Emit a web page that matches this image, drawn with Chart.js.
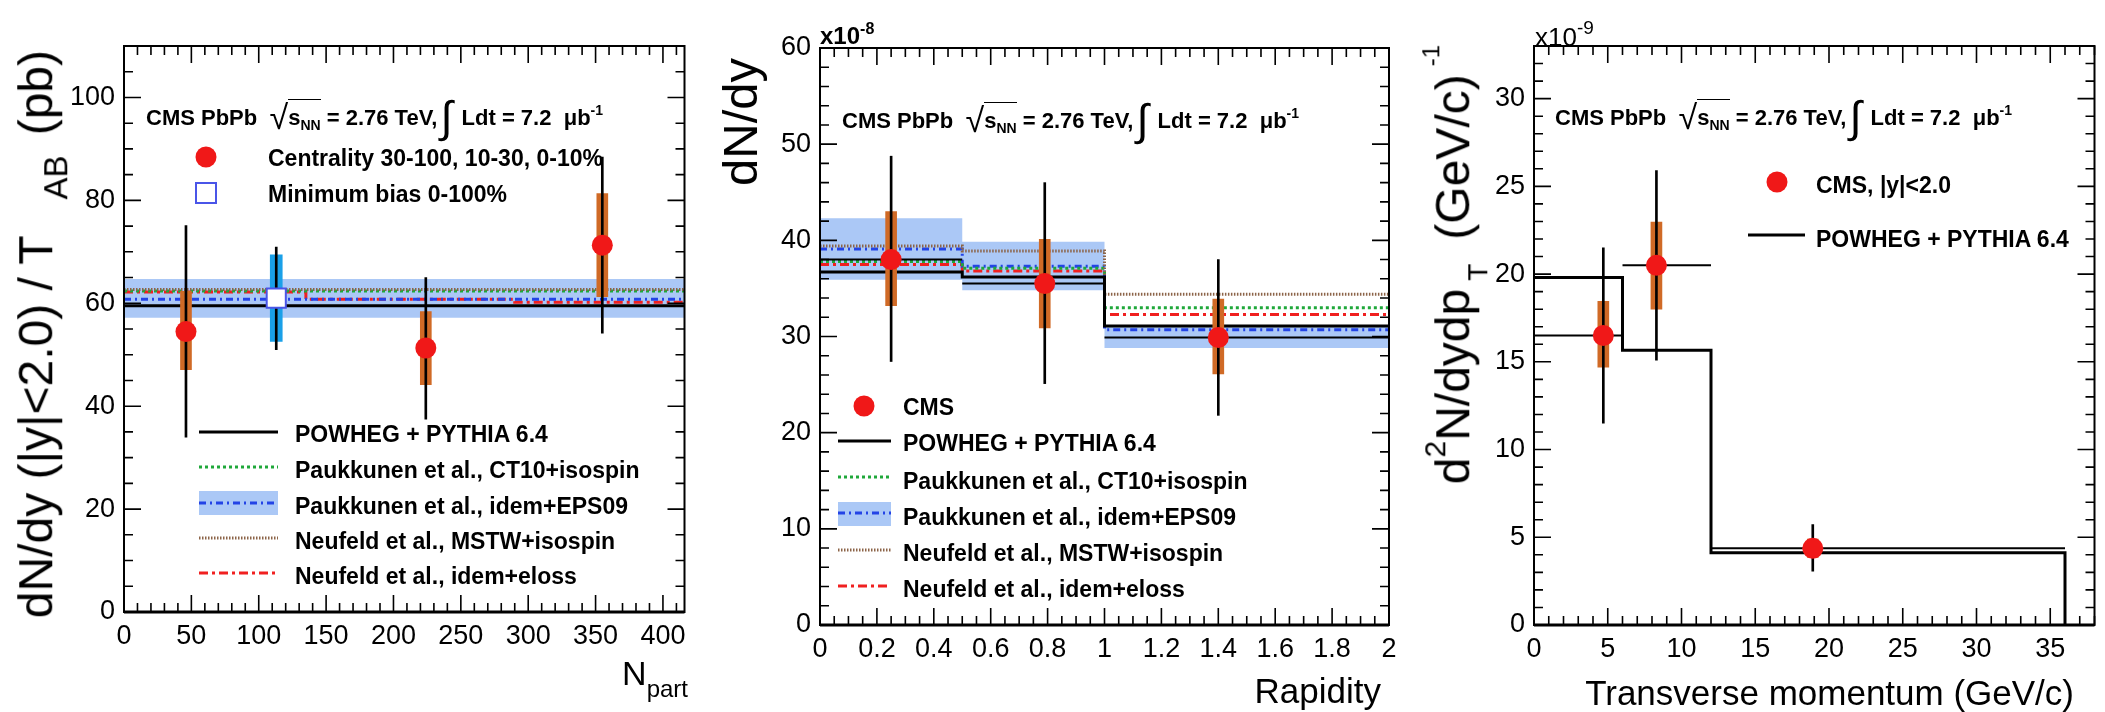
<!DOCTYPE html>
<html>
<head>
<meta charset="utf-8">
<script src="https://cdn.jsdelivr.net/npm/chart.js@4.4.1/dist/chart.umd.min.js"></script>
<style>
html, body { margin: 0; padding: 0; background: #fff; }
#page { position: relative; width: 2105px; height: 712px; overflow: hidden; }
canvas { position: absolute; top: 0; }
.t { position: absolute; white-space: nowrap; line-height: 1; font-family: "Liberation Sans", Arial, sans-serif; color: #000; }
.hdr { font-size: 22px; font-weight: bold; }
.hdr .rt { font-weight: normal; font-size: 34px; position: relative; top: 4px; }
.hdr .ov { border-top: 1.5px solid #000; padding-top: 5px; }
.hdr .ig { font-weight: normal; font-size: 44px; position: relative; top: 7px; margin: 0 3px; }
.hdr .sb { font-size: 14px; position: relative; top: 5px; }
.hdr .sp { font-size: 14px; position: relative; top: -10px; }
.leg { font-size: 23px; font-weight: bold; }
.ytitle { position: absolute; width: 0; height: 0; }
.ytitle > div { position: absolute; right: 0; top: 0; transform-origin: 100% 0; transform: rotate(-90deg);
  white-space: nowrap; line-height: 1; font-family: "Liberation Sans", Arial, sans-serif; color: #000; }
</style>
</head>
<body>
<div id="page"></div>
<script>
// ---- panel 1: yield vs N_part ----
const npartEdges = [0, 135, 290, 416];
const npartX = [46, 224, 355];
const npartY = [54.5, 51.3, 71.3];
const npartStatLo = [34.0, 37.5, 54.2];
const npartStatHi = [75.1, 65.0, 88.4];
const npartSystLo = [47.1, 44.2, 61.3];
const npartSystHi = [62.3, 58.4, 81.3];
const mbX = [113];
const mbY = [61.0];
const mbStatLo = [51.0];
const mbStatHi = [70.9];
const mbSystLo = [52.6];
const mbSystHi = [69.4];
const npartPowheg = [59.5, 59.5, 59.5];
const npartCT10 = [62.4, 62.4, 62.4];
const npartEPS09 = [60.8, 60.8, 60.8];
const npartEPS09Lo = [57.2, 57.2, 57.2];
const npartEPS09Hi = [64.7, 64.7, 64.7];
const npartMSTW = [62.7, 62.7, 62.7];
const npartEloss = [62.2, 60.8, 60.2];

// ---- panel 2: dN/dy vs rapidity (x1e-8) ----
const rapEdges = [0, 0.5, 1, 2];
const rapX = [0.25, 0.79, 1.4];
const rapY = [38.0, 35.5, 29.9];
const rapStatLo = [27.4, 25.1, 21.8];
const rapStatHi = [48.75, 46.0, 38.0];
const rapSystLo = [33.2, 30.9, 26.1];
const rapSystHi = [43.0, 40.1, 33.9];
const rapPowheg = [36.7, 36.2, 31.1];
const rapCT10 = [37.8, 37.1, 33.0];
const rapEPS09 = [39.1, 37.3, 30.7];
const rapEPS09Lo = [35.9, 34.8, 28.8];
const rapEPS09Hi = [42.3, 39.85, 31.0];
const rapMSTW = [39.4, 38.9, 34.4];
const rapEloss = [37.5, 36.8, 32.3];

// ---- panel 3: d2N/dydpT vs pT (x1e-9) ----
const ptEdges = [0, 6, 12, 36];
const ptX = [4.7, 8.3, 18.9];
const ptY = [16.5, 20.5, 4.37];
const ptStatLo = [11.5, 15.1, 3.07];
const ptStatHi = [21.5, 25.9, 5.73];
const ptSystLo = [14.7, 18.0, 3.85];
const ptSystHi = [18.45, 22.97, 4.9];
const ptPowheg = [19.8, 15.66, 4.12];

const RED = '#f01818';
const ORANGE = '#d06a26';
const BAND = '#abc8f6';
const STYLE = {
  powheg: { color: '#000000', width: 3, dash: [] },
  ct10:   { color: '#1fa83a', width: 3, dash: [3, 3] },
  eps09:  { color: '#2343e6', width: 3, dash: [7, 4, 2, 4] },
  mstw:   { color: '#8c6448', width: 3, dash: [1.5, 1.5] },
  eloss:  { color: '#f02020', width: 3, dash: [9, 4, 3, 4] }
};
const FONT = '"Liberation Sans", Arial, sans-serif';
Chart.defaults.font.family = FONT;

// histogram points: horizontal at each bin value, vertical at the edges (stepped 'before')
function steps(edges, vals) {
  const pts = vals.map((v, i) => ({ x: edges[i], y: v }));
  pts.push({ x: edges[edges.length - 1], y: vals[vals.length - 1] });
  return pts;
}

function modelLine(data, s) {
  return { type: 'line', data, stepped: 'before', borderColor: s.color, borderWidth: s.width,
    borderDash: s.dash, pointRadius: 0, fill: false, order: 50 };
}

function band(edges, lo, hi) {
  return [
    { type: 'line', data: steps(edges, hi), stepped: 'before', borderWidth: 0, pointRadius: 0, fill: false, order: 100 },
    { type: 'line', data: steps(edges, lo), stepped: 'before', borderWidth: 0, pointRadius: 0,
      fill: '-1', backgroundColor: BAND, order: 100 }
  ];
}

function bars(xs, lo, hi, color, thick, order) {
  return { type: 'bar', data: xs.map((x, i) => ({ x, y: [lo[i], hi[i]] })), backgroundColor: color,
    barThickness: thick, grouped: false, borderWidth: 0, order };
}

function markers(xs, ys) {
  return { type: 'scatter', data: xs.map((x, i) => ({ x, y: ys[i] })), pointRadius: 10.5,
    pointBackgroundColor: RED, pointBorderWidth: 0, order: 0 };
}

function xErrors(edges, ys) {
  return ys.map((y, i) => ({ type: 'line', data: [{ x: edges[i], y }, { x: edges[i + 1], y }],
    borderColor: '#000', borderWidth: 2, pointRadius: 0, fill: false, order: 10 }));
}

// frame + ROOT-like ticks on all four sides
const rootFrame = {
  id: 'rootFrame',
  afterDatasetsDraw(chart, args, opts) {
    const { ctx, chartArea: a } = chart;
    ctx.save();
    ctx.strokeStyle = '#000';
    ctx.lineWidth = 1.6;
    const axes = [[chart.scales.x, opts.x, true], [chart.scales.y, opts.y, false]];
    axes.forEach(([scale, [major, minor], horiz]) => {
      const n = Math.floor((scale.max - scale.min) / minor + 1e-6);
      for (let k = 0; k <= n; k++) {
        const v = scale.min + k * minor;
        const isMajor = Math.abs(v / major - Math.round(v / major)) < 1e-6;
        const len = isMajor ? 17 : 9;
        const p = scale.getPixelForValue(v);
        ctx.beginPath();
        if (horiz) {
          ctx.moveTo(p, a.bottom); ctx.lineTo(p, a.bottom - len);
          ctx.moveTo(p, a.top); ctx.lineTo(p, a.top + len);
        } else {
          ctx.moveTo(a.left, p); ctx.lineTo(a.left + len, p);
          ctx.moveTo(a.right, p); ctx.lineTo(a.right - len, p);
        }
        ctx.stroke();
      }
    });
    ctx.lineWidth = 2;
    ctx.strokeRect(a.left, a.top, a.right - a.left, a.bottom - a.top);
    ctx.lineWidth = 3;
    ctx.beginPath(); ctx.moveTo(a.left, a.bottom); ctx.lineTo(a.right, a.bottom); ctx.stroke();
    ctx.restore();
  }
};

// legend symbols (text is HTML)
const rootLegend = {
  id: 'rootLegend',
  afterDatasetsDraw(chart, args, opts) {
    const ctx = chart.ctx;
    const dx = opts.dx || 0;
    ctx.save();
    (opts.items || []).forEach(it => {
      if (it.t === 'circle') {
        ctx.fillStyle = RED;
        ctx.beginPath(); ctx.arc(it.x - dx, it.y, 10.5, 0, Math.PI * 2); ctx.fill();
      } else if (it.t === 'square') {
        ctx.fillStyle = '#fff'; ctx.strokeStyle = '#4a55e8'; ctx.lineWidth = 2;
        ctx.fillRect(it.x - dx - 10, it.y - 10, 20, 20);
        ctx.strokeRect(it.x - dx - 10, it.y - 10, 20, 20);
      } else if (it.t === 'band') {
        ctx.fillStyle = BAND;
        ctx.fillRect(it.x1 - dx, it.y1, it.x2 - it.x1, it.y2 - it.y1);
      } else if (it.t === 'line') {
        ctx.strokeStyle = it.s.color; ctx.lineWidth = it.s.width; ctx.setLineDash(it.s.dash);
        ctx.beginPath(); ctx.moveTo(it.x1 - dx, it.y); ctx.lineTo(it.x2 - dx, it.y); ctx.stroke();
        ctx.setLineDash([]);
      }
    });
    ctx.restore();
  }
};

const page = document.getElementById('page');

function makeChart(cfg) {
  const canvas = document.createElement('canvas');
  canvas.width = cfg.width;
  canvas.height = 712;
  canvas.style.left = cfg.left + 'px';
  canvas.style.width = cfg.width + 'px';
  canvas.style.height = '712px';
  page.appendChild(canvas);
  const tickFont = { family: FONT, size: 27 };
  return new Chart(canvas, {
    type: 'scatter',
    data: { datasets: cfg.datasets },
    options: {
      responsive: false, animation: false, devicePixelRatio: 1,
      layout: { padding: { left: 0, top: cfg.area.top, right: cfg.left + cfg.width - cfg.area.right, bottom: 0 } },
      scales: {
        x: {
          type: 'linear', min: cfg.x.min, max: cfg.x.max, offset: false,
          grid: { display: false, drawTicks: false, offset: false }, border: { display: false },
          ticks: { stepSize: cfg.x.step, includeBounds: false, autoSkip: false, maxRotation: 0, padding: 8,
            font: tickFont, color: '#000', callback: v => String(+v.toFixed(2)) },
          afterFit: s => { s.height = 712 - cfg.area.bottom; }
        },
        y: {
          type: 'linear', min: cfg.y.min, max: cfg.y.max,
          grid: { display: false, drawTicks: false }, border: { display: false },
          ticks: { stepSize: cfg.y.step, includeBounds: false, autoSkip: false, padding: 9,
            font: tickFont, color: '#000', callback: v => String(+v.toFixed(2)) },
          afterFit: s => { s.width = cfg.area.left - cfg.left; }
        }
      },
      plugins: {
        legend: { display: false }, tooltip: { enabled: false },
        rootFrame: { x: cfg.x.ticks, y: cfg.y.ticks },
        rootLegend: { dx: cfg.left, items: cfg.legend }
      }
    },
    plugins: [rootFrame, rootLegend]
  });
}

// panel 1
makeChart({
  left: 0, width: 700, area: { left: 124, right: 692, top: 46, bottom: 612 },
  x: { min: 0, max: 416, step: 50, ticks: [50, 10] },
  y: { min: 0, max: 110, step: 20, ticks: [20, 5] },
  datasets: [
    markers(npartX, npartY),
    { type: 'scatter', data: mbX.map((x, i) => ({ x, y: mbY[i] })), pointStyle: 'rect', pointRadius: 13.5,
      pointBackgroundColor: '#fff', pointBorderColor: '#4a55e8', pointBorderWidth: 2, order: 0 },
    bars(npartX, npartStatLo, npartStatHi, '#000', 2, 10),
    bars(mbX, mbStatLo, mbStatHi, '#000', 2, 10),
    bars(npartX, npartSystLo, npartSystHi, ORANGE, 11, 20),
    bars(mbX, mbSystLo, mbSystHi, '#1aa0e8', 12, 20),
    modelLine(steps(npartEdges, npartPowheg), STYLE.powheg),
    modelLine(steps(npartEdges, npartMSTW), STYLE.mstw),
    modelLine(steps(npartEdges, npartCT10), STYLE.ct10),
    modelLine(steps(npartEdges, npartEPS09), STYLE.eps09),
    modelLine(steps(npartEdges, npartEloss), STYLE.eloss),
    ...band(npartEdges, npartEPS09Lo, npartEPS09Hi)
  ],
  legend: [
    { t: 'circle', x: 206, y: 157 },
    { t: 'square', x: 206, y: 193 },
    { t: 'line', x1: 199, x2: 278, y: 432, s: STYLE.powheg },
    { t: 'line', x1: 199, x2: 278, y: 467, s: STYLE.ct10 },
    { t: 'band', x1: 199, x2: 278, y1: 491, y2: 515 },
    { t: 'line', x1: 199, x2: 278, y: 503, s: STYLE.eps09 },
    { t: 'line', x1: 199, x2: 278, y: 538, s: STYLE.mstw },
    { t: 'line', x1: 199, x2: 278, y: 573, s: STYLE.eloss }
  ]
});

// panel 2
makeChart({
  left: 700, width: 705, area: { left: 820, right: 1389, top: 48, bottom: 625 },
  x: { min: 0, max: 2, step: 0.2, ticks: [0.2, 0.05] },
  y: { min: 0, max: 60, step: 10, ticks: [10, 2] },
  datasets: [
    markers(rapX, rapY),
    bars(rapX, rapStatLo, rapStatHi, '#000', 2, 10),
    ...xErrors(rapEdges, rapY),
    bars(rapX, rapSystLo, rapSystHi, ORANGE, 11, 20),
    modelLine(steps(rapEdges, rapPowheg), STYLE.powheg),
    modelLine(steps(rapEdges, rapMSTW), STYLE.mstw),
    modelLine(steps(rapEdges, rapCT10), STYLE.ct10),
    modelLine(steps(rapEdges, rapEPS09), STYLE.eps09),
    modelLine(steps(rapEdges, rapEloss), STYLE.eloss),
    ...band(rapEdges, rapEPS09Lo, rapEPS09Hi)
  ],
  legend: [
    { t: 'circle', x: 864, y: 406 },
    { t: 'line', x1: 838, x2: 891, y: 441, s: STYLE.powheg },
    { t: 'line', x1: 838, x2: 891, y: 477, s: STYLE.ct10 },
    { t: 'band', x1: 838, x2: 891, y1: 502, y2: 526 },
    { t: 'line', x1: 838, x2: 891, y: 513, s: STYLE.eps09 },
    { t: 'line', x1: 838, x2: 891, y: 550, s: STYLE.mstw },
    { t: 'line', x1: 838, x2: 891, y: 586, s: STYLE.eloss }
  ]
});

// panel 3
const ptPowhegLine = steps(ptEdges, ptPowheg);
ptPowhegLine.push({ x: ptEdges[ptEdges.length - 1], y: 0 });
makeChart({
  left: 1405, width: 700, area: { left: 1534, right: 2102, top: 46, bottom: 625 },
  x: { min: 0, max: 38, step: 5, ticks: [5, 1] },
  y: { min: 0, max: 33, step: 5, ticks: [5, 1] },
  datasets: [
    markers(ptX, ptY),
    bars(ptX, ptStatLo, ptStatHi, '#000', 2, 10),
    ...xErrors(ptEdges, ptY),
    bars(ptX, ptSystLo, ptSystHi, ORANGE, 11, 20),
    modelLine(ptPowhegLine, STYLE.powheg)
  ],
  legend: [
    { t: 'circle', x: 1777, y: 182 },
    { t: 'line', x1: 1748, x2: 1805, y: 235, s: STYLE.powheg }
  ]
});

// ---- text ----
function header(left, top) {
  return `<div class="t hdr" style="left:${left}px;top:${top}px">CMS PbPb&nbsp;&nbsp;<span class="rt">&radic;</span><span class="ov">s<span class="sb">NN</span></span> = 2.76 TeV,<span class="ig">&int;</span> Ldt = 7.2 &nbsp;&mu;b<span class="sp">-1</span></div>`;
}
const legendRows = [
  [268, 147, 'Centrality 30-100, 10-30, 0-10%'],
  [268, 183, 'Minimum bias 0-100%'],
  [295, 423, 'POWHEG + PYTHIA 6.4'],
  [295, 459, 'Paukkunen et al., CT10+isospin'],
  [295, 495, 'Paukkunen et al., idem+EPS09'],
  [295, 530, 'Neufeld et al., MSTW+isospin'],
  [295, 565, 'Neufeld et al., idem+eloss'],
  [903, 396, 'CMS'],
  [903, 432, 'POWHEG + PYTHIA 6.4'],
  [903, 470, 'Paukkunen et al., CT10+isospin'],
  [903, 506, 'Paukkunen et al., idem+EPS09'],
  [903, 542, 'Neufeld et al., MSTW+isospin'],
  [903, 578, 'Neufeld et al., idem+eloss'],
  [1816, 174, 'CMS, |y|&lt;2.0'],
  [1816, 228, 'POWHEG + PYTHIA 6.4']
];
let html = header(146, 88) + header(842, 91) + header(1555, 88);
legendRows.forEach(([l, t, s]) => { html += `<div class="t leg" style="left:${l}px;top:${t}px">${s}</div>`; });
html += `<div class="t" style="left:820px;top:24px;font-size:24px;font-weight:bold">x10<span style="font-size:16px;position:relative;top:-10px">-8</span></div>`;
html += `<div class="t" style="left:1535px;top:24px;font-size:26px">x10<span style="font-size:19px;position:relative;top:-12px">-9</span></div>`;
html += `<div class="t" style="right:${2105 - 688}px;top:656px;font-size:34px">N<span style="font-size:24px;position:relative;top:12px">part</span></div>`;
html += `<div class="t" style="right:${2105 - 1381}px;top:673px;font-size:35px">Rapidity</div>`;
html += `<div class="t" style="right:${2105 - 2074}px;top:675px;font-size:35px">Transverse momentum (GeV/c)</div>`;
html += `<div class="ytitle" style="left:12px;top:50px"><div style="font-size:48px">dN/dy (|y|&lt;2.0) / T<span style="font-size:33px;position:relative;top:15px;margin-left:36px;margin-right:20px">AB</span>(pb)</div></div>`;
html += `<div class="ytitle" style="left:716px;top:58px"><div style="font-size:49px">dN/dy</div></div>`;
html += `<div class="ytitle" style="left:1429px;top:45px"><div style="font-size:48px">d<span style="font-size:30px;position:relative;top:-24px">2</span>N/dydp<span style="font-size:28px;position:relative;top:18px;margin-left:8px;margin-right:24px">T</span>(GeV/c)<span style="font-size:24px;position:relative;top:-30px;margin-left:8px">-1</span></div></div>`;
const textLayer = document.createElement('div');
textLayer.innerHTML = html;
page.appendChild(textLayer);
</script>
</body>
</html>
